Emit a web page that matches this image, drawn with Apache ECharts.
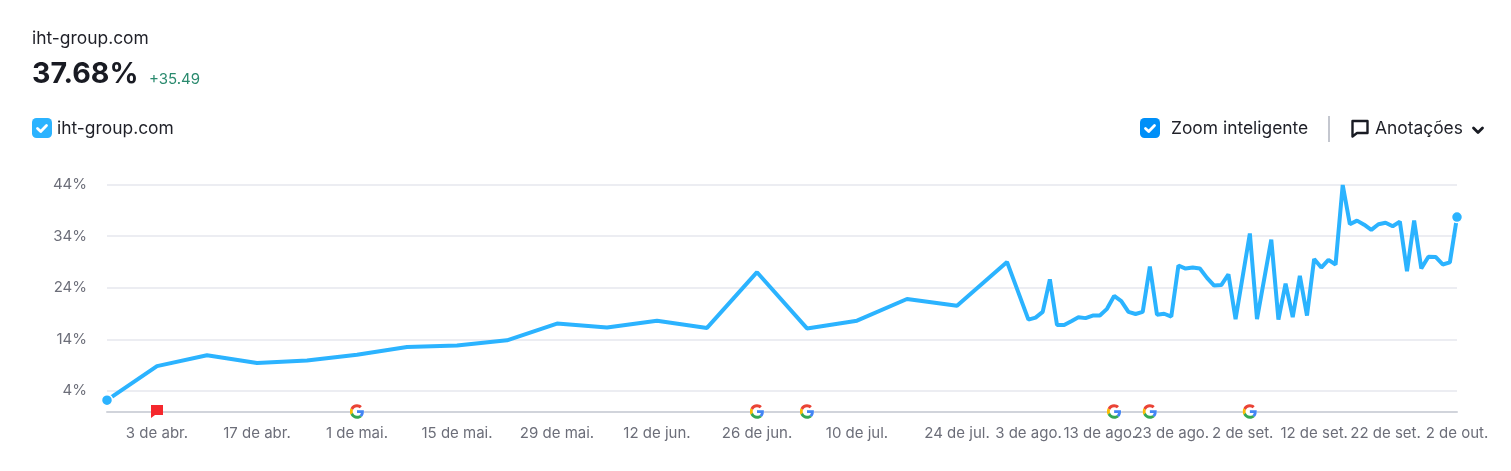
<!DOCTYPE html>
<html><head><meta charset="utf-8">
<script src="https://cdn.jsdelivr.net/npm/echarts@6/dist/echarts.min.js"></script>
<style>html,body{margin:0;padding:0;background:#fff}#c{width:1511px;height:471px}</style>
</head><body><div id="c"></div>
<script>
const seriesName = 'iht-group.com';
const dates = ['2023-03-27','2023-04-03','2023-04-10','2023-04-17','2023-04-24','2023-05-01','2023-05-08','2023-05-15','2023-05-22','2023-05-29','2023-06-05','2023-06-12','2023-06-19','2023-06-26','2023-07-03','2023-07-10','2023-07-17','2023-07-24','2023-07-31',
'2023-08-03','2023-08-04','2023-08-05','2023-08-06','2023-08-07','2023-08-08','2023-08-09','2023-08-10','2023-08-11','2023-08-12','2023-08-13','2023-08-14','2023-08-15','2023-08-16','2023-08-17','2023-08-18','2023-08-19','2023-08-20','2023-08-21','2023-08-22','2023-08-23','2023-08-24','2023-08-25','2023-08-26','2023-08-27','2023-08-28','2023-08-29','2023-08-30','2023-08-31','2023-09-01',
'2023-09-03','2023-09-04','2023-09-06','2023-09-07','2023-09-08','2023-09-09','2023-09-10','2023-09-11','2023-09-12','2023-09-13','2023-09-14','2023-09-15','2023-09-16','2023-09-17','2023-09-18','2023-09-19','2023-09-20','2023-09-21','2023-09-22','2023-09-23','2023-09-24','2023-09-25','2023-09-26','2023-09-27','2023-09-28','2023-09-29','2023-09-30','2023-10-01','2023-10-02'];
const values = [2.19,8.8,10.9,9.4,9.9,11.0,12.5,12.8,13.8,17.05,16.3,17.6,16.2,27.0,16.1,17.6,21.8,20.5,29.0,
17.8,18.2,19.3,25.6,16.76,16.76,17.5,18.25,18.1,18.6,18.6,19.9,22.4,21.4,19.3,18.9,19.3,28.1,18.75,18.95,18.4,28.3,27.7,27.9,27.7,25.9,24.4,24.5,26.6,17.9,
34.5,17.9,33.3,17.8,24.8,18.3,26.3,18.6,29.55,27.9,29.4,28.5,43.9,36.3,37.0,36.2,35.2,36.3,36.6,35.9,36.8,27.2,37.0,27.75,30.0,29.95,28.5,28.9,37.68];
const tickDates = ['2023-04-03','2023-04-17','2023-05-01','2023-05-15','2023-05-29','2023-06-12','2023-06-26','2023-07-10','2023-07-24','2023-08-03','2023-08-13','2023-08-23','2023-09-02','2023-09-12','2023-09-22','2023-10-02'];
const tickLabels = ['3 de abr.','17 de abr.','1 de mai.','15 de mai.','29 de mai.','12 de jun.','26 de jun.','10 de jul.','24 de jul.','3 de ago.','13 de ago.','23 de ago.','2 de set.','12 de set.','22 de set.','2 de out.'];
const yTicks = [4,14,24,34,44];
const googleDates = ['2023-05-01','2023-06-26','2023-07-03','2023-08-15','2023-08-20','2023-09-03'];
const flagDates = ['2023-04-03'];

const FONT = 'Inter, "Noto Sans", sans-serif';
const ts = s => { const [y,m,d] = s.split('-').map(Number); return new Date(y,m-1,d).getTime(); };
const labelByTs = {}; tickDates.forEach((d,i)=>{labelByTs[ts(d)] = tickLabels[i];});
const gSvg = '<svg xmlns="http://www.w3.org/2000/svg" viewBox="-1 -1 50 50"><circle cx="24" cy="24" r="24" fill="#fff"/><path fill="#EA4335" d="M24 9.5c3.54 0 6.71 1.22 9.21 3.6l6.85-6.85C35.9 2.38 30.47 0 24 0 14.62 0 6.51 5.38 2.56 13.22l7.98 6.19C12.43 13.72 17.74 9.5 24 9.5z"/><path fill="#4285F4" d="M46.98 24.55c0-1.57-.15-3.09-.38-4.55H24v9.02h12.94c-.58 2.96-2.26 5.48-4.78 7.18l7.73 6c4.51-4.18 7.09-10.36 7.09-17.65z"/><path fill="#FBBC05" d="M10.53 28.59c-.48-1.45-.76-2.99-.76-4.59s.27-3.14.76-4.59l-7.98-6.19C.92 16.46 0 20.12 0 24c0 3.88.92 7.54 2.56 10.78l7.97-6.19z"/><path fill="#34A853" d="M24 48c6.48 0 11.93-2.13 15.89-5.81l-7.73-6c-2.15 1.45-4.92 2.3-8.16 2.3-6.26 0-11.57-4.22-13.47-9.91l-7.98 6.19C6.51 42.62 14.62 48 24 48z"/></svg>';
const gIcon = 'image://data:image/svg+xml;charset=utf-8,' + encodeURIComponent(gSvg);
const lineData = dates.map((d,i)=>({value:[ts(d),values[i]], symbol:(i===0||i===dates.length-1)?'circle':'none'}));

function checkbox(x,y,color){
  return [
    {type:'rect',shape:{x:x,y:y,width:20,height:20,r:4.5},style:{fill:color}},
    {type:'polyline',shape:{points:[[x+5.5,y+10.5],[x+8.7,y+13.5],[x+14.5,y+7.5]]},style:{fill:'none',stroke:'#fff',lineWidth:2.8,lineCap:'round',lineJoin:'round'}}
  ];
}
const txt = (x,y,text,size,color,weight)=>({type:'text',x:x,y:y,style:{text:text,font:(weight||400)+' '+size+'px '+FONT,fill:color,textVerticalAlign:'middle'}});

const chart = echarts.init(document.getElementById('c'),null,{renderer:'canvas'});
chart.setOption({
  animation:false,
  backgroundColor:'#fff',
  grid:{left:107,top:184.5,width:1350,height:227,containLabel:false},
  xAxis:{type:'value',min:ts(dates[0]),max:ts(dates[dates.length-1]),
    axisLine:{show:true,lineStyle:{color:'#d1d4db',width:2}},
    axisTick:{show:false},splitLine:{show:false},
    axisLabel:{customValues:tickDates.map(ts),hideOverlap:false,showMinLabel:true,showMaxLabel:true,
      formatter:v=>labelByTs[v]||'',color:'#6c6e79',fontFamily:FONT,fontSize:15,margin:14}},
  yAxis:{type:'value',min:0,max:44,
    axisLine:{show:false},
    axisTick:{show:false,customValues:yTicks},
    splitLine:{show:true,lineStyle:{color:'#e6e7ee',width:1.5}},
    axisLabel:{customValues:yTicks,formatter:'{value}%',color:'#6c6e79',fontFamily:FONT,fontSize:15,margin:20}},
  series:[
    {name:seriesName,type:'line',data:lineData,showAllSymbol:true,symbolSize:11,clip:false,
     lineStyle:{color:'#2bb3ff',width:4,join:'bevel'},
     itemStyle:{color:'#2bb3ff',borderColor:'#fff',borderWidth:1.5},z:3},
    {type:'scatter',data:googleDates.map(d=>[ts(d),0]),symbol:gIcon,symbolSize:15,clip:false,z:4,silent:true,itemStyle:{opacity:1}},
    {type:'scatter',data:flagDates.map(d=>[ts(d),0]),symbol:'path://M0 0H12V10H4L0 13Z',symbolSize:[12,13],clip:false,z:4,silent:true,
     itemStyle:{color:'#f5282d',opacity:1}}
  ],
  graphic:[
    txt(32,39,seriesName,17.4,'#1f2028'),
    txt(32,74,'37.68%',28.6,'#191b23',700),
    txt(149,79,'+35.49',15,'#2a8a6e'),
    ...checkbox(32,118,'#2bb3ff'),
    txt(57,129,seriesName,17.4,'#1f2028'),
    ...checkbox(1140,118,'#008ff8'),
    txt(1171,129,'Zoom inteligente',17.4,'#1f2028'),
    {type:'rect',shape:{x:1328,y:116,width:2,height:26},style:{fill:'#c4c7cf'}},
    {type:'polygon',shape:{points:[[1352.5,121],[1367.5,121],[1367.5,133],[1357,133],[1352.5,136.5]]},style:{fill:'none',stroke:'#191b23',lineWidth:2.4,lineJoin:'round'}},
    txt(1375,129,'Anotações',17.4,'#1f2028'),
    {type:'polyline',shape:{points:[[1473.5,128],[1478,132.5],[1482.5,128]]},style:{fill:'none',stroke:'#191b23',lineWidth:2.8,lineCap:'round',lineJoin:'round'}}
  ]
});
</script></body></html>
